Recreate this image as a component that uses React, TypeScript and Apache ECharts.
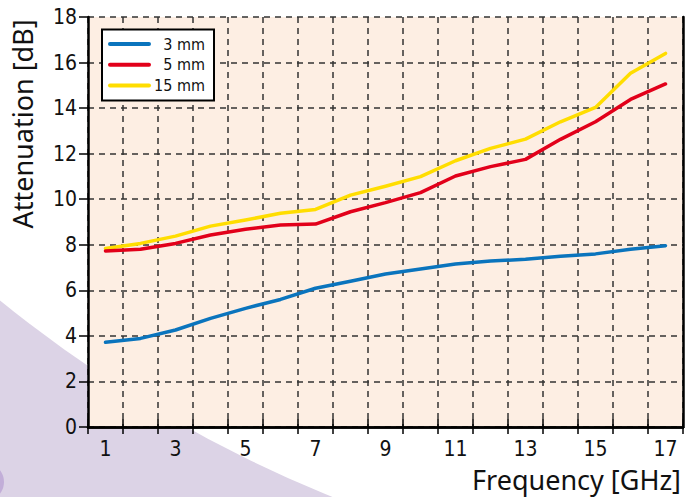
import React, { useEffect, useRef } from "react";
import * as echarts from "echarts";

const frequencies = ["1","2","3","4","5","6","7","8","9","10","11","12","13","14","15","16","17"];
const seriesNames = ["3 mm", "5 mm", "15 mm"];
const att3mm = [3.72, 3.89, 4.26, 4.77, 5.21, 5.6, 6.09, 6.4, 6.72, 6.94, 7.16, 7.29, 7.36, 7.5, 7.6, 7.8, 7.96];
const att5mm = [7.73, 7.8, 8.06, 8.43, 8.68, 8.87, 8.91, 9.45, 9.85, 10.29, 11.02, 11.43, 11.75, 12.63, 13.4, 14.38, 15.06];
const att15mm = [7.84, 8.06, 8.38, 8.82, 9.09, 9.38, 9.55, 10.18, 10.57, 10.99, 11.69, 12.23, 12.64, 13.4, 14.03, 15.53, 16.4];
const colors = ["#0a74bd", "#e2001a", "#ffdd00"];
const xAxisTitle = "Frequency [GHz]";
const yAxisTitle = "Attenuation [dB]";

const tickFont = "'Liberation Sans Narrow', 'DejaVu Sans Condensed', sans-serif";
const titleFont = "'Noto Sans', 'Open Sans', sans-serif";

export default function App() {
  const ref = useRef<HTMLDivElement>(null);
  useEffect(() => {
    document.body.style.margin = "0";
    const chart = echarts.init(ref.current!, null, { renderer: "svg" });
    const values = [att3mm, att5mm, att15mm];
    const legendItems: any[] = [];
    seriesNames.forEach((n, i) => {
      const y = 44 + i * 20.8;
      legendItems.push({
        type: "line",
        shape: { x1: 110, y1: y, x2: 149, y2: y },
        style: { stroke: colors[i], lineWidth: 4, lineCap: "round" },
        z: 101,
      });
      legendItems.push({
        type: "text",
        x: 205,
        y: y,
        style: {
          text: n,
          fill: "#111",
          font: `16px ${tickFont}`,
          textAlign: "right",
          textVerticalAlign: "middle",
        },
        z: 101,
      });
    });
    chart.setOption({
      animation: false,
      backgroundColor: "#ffffff",
      grid: {
        left: 88,
        top: 17,
        width: 595,
        height: 410,
        show: true,
        backgroundColor: "#fdeee3",
        borderColor: "#000",
        borderWidth: 0,
      },
      xAxis: [
        {
          type: "category",
          data: frequencies,
          boundaryGap: true,
          position: "bottom",
          axisLine: { show: true, lineStyle: { color: "#000", width: 2.5 } },
          axisTick: { show: true, inside: true, length: 8, interval: 0, lineStyle: { color: "#000", width: 1.5 } },
          axisLabel: { interval: 1, fontSize: 21, color: "#111", margin: 11, fontFamily: tickFont },
          splitLine: { show: true, interval: 0, lineStyle: { color: "#333", width: 1.5, type: [6, 5] } },
        },
        {
          type: "category",
          data: frequencies,
          boundaryGap: true,
          position: "top",
          axisLine: { show: true, lineStyle: { color: "#000", width: 2.5 } },
          axisTick: { show: true, inside: true, length: 7, interval: 0, lineStyle: { color: "#000", width: 1.5 } },
          axisLabel: { show: false },
          splitLine: { show: false },
        },
      ],
      yAxis: [
        {
          type: "value",
          min: 0,
          max: 18,
          interval: 2,
          position: "left",
          axisLine: { show: true, lineStyle: { color: "#000", width: 2.5 } },
          axisTick: { show: true, inside: false, length: 9, lineStyle: { color: "#000", width: 1.5 } },
          axisLabel: { fontSize: 21, color: "#111", margin: 11, fontFamily: tickFont },
          splitLine: { show: true, lineStyle: { color: "#333", width: 1.5, type: [6, 5] } },
        },
        {
          type: "value",
          min: 0,
          max: 18,
          interval: 2,
          position: "right",
          axisLine: { show: true, onZero: false, lineStyle: { color: "#000", width: 2.5 } },
          axisTick: { show: false },
          axisLabel: { show: false },
          splitLine: { show: false },
        },
      ],
      series: values.map((v, i) => ({
        name: seriesNames[i],
        type: "line",
        data: v,
        symbol: "none",
        z: 10 - i,
        lineStyle: { color: colors[i], width: 3.5, cap: "round", join: "round" },
        itemStyle: { color: colors[i] },
      })),
      graphic: [
        {
          type: "rect",
          shape: { x: 0, y: 0, width: 686, height: 497 },
          style: { fill: "#dcd3e6" },
          z: -20,
          silent: true,
        },
        {
          type: "circle",
          shape: { cx: 820, cy: -707, r: 1299 },
          style: { fill: "#ffffff" },
          z: -19,
          silent: true,
        },
        {
          type: "circle",
          shape: { cx: -15, cy: 482, r: 19 },
          style: { fill: "#c2aed8" },
          z: -18,
          silent: true,
        },
        {
          type: "rect",
          shape: { x: 102, y: 29.5, width: 112, height: 71 },
          style: { fill: "#ffffff", stroke: "#000", lineWidth: 2 },
          z: 100,
        },
        ...legendItems,
        {
          type: "text",
          x: 681,
          y: 479,
          style: {
            text: xAxisTitle,
            fill: "#111",
            font: `27px ${titleFont}`,
            textAlign: "right",
            textVerticalAlign: "middle",
          },
          z: 100,
        },
        {
          type: "text",
          x: 22,
          y: 124,
          rotation: Math.PI / 2,
          style: {
            text: yAxisTitle,
            fill: "#111",
            font: `27px ${titleFont}`,
            textAlign: "center",
            textVerticalAlign: "middle",
          },
          z: 100,
        },
      ],
    });
    return () => chart.dispose();
  }, []);
  return <div ref={ref} style={{ width: 686, height: 497 }} />;
}
